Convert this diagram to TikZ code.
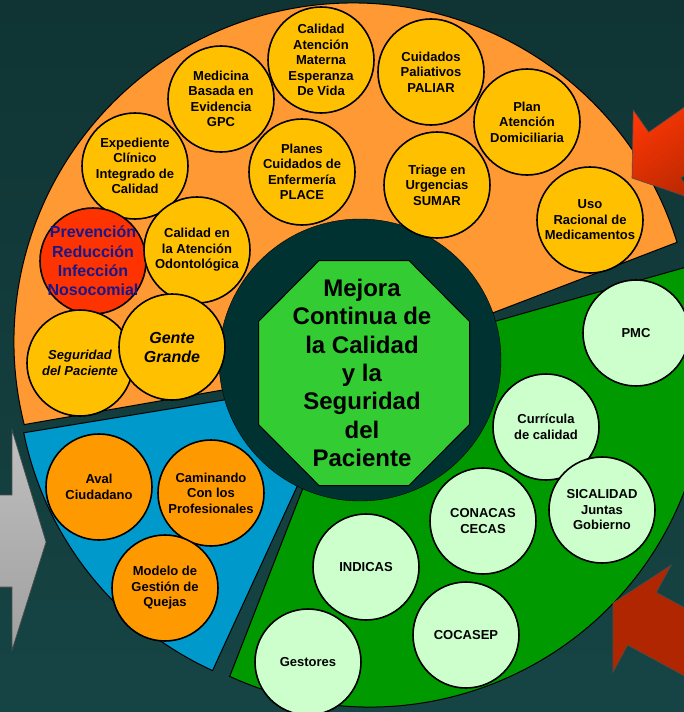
\documentclass[tikz,border=0pt]{standalone}
\usepackage{fontspec}
\setmainfont{Liberation Sans}
\definecolor{bgtop}{RGB}{16,52,52}
\definecolor{bgbot}{RGB}{22,68,68}
\definecolor{hubC}{RGB}{0,50,50}
\definecolor{orangeS}{RGB}{255,153,51}
\definecolor{blueS}{RGB}{0,153,204}
\definecolor{greenS}{RGB}{0,153,0}
\definecolor{octC}{RGB}{51,204,51}
\definecolor{yelF}{RGB}{255,192,0}
\definecolor{oraF}{RGB}{255,153,0}
\definecolor{mintF}{RGB}{204,255,204}
\definecolor{redF}{RGB}{255,51,0}
\definecolor{navyT}{RGB}{24,24,140}
\definecolor{arrLight}{RGB}{255,55,5}
\definecolor{arrDark}{RGB}{130,28,0}
\definecolor{arrMid}{RGB}{175,38,0}
\tikzset{
    sector/.style={draw=black, line width=1pt},
    bub/.style={circle, draw=black, line width=1.6pt, minimum size=106, inner sep=-6pt,
        align=center, font=\fontsize{13}{15.5}\selectfont\bfseries},
    bubY/.style={bub, fill=yelF},
    bubI/.style={bub, fill=yelF, font=\fontsize{13}{15.5}\selectfont\bfseries\itshape},
    bubR/.style={bub, fill=redF, text=navyT, font=\fontsize{16}{19.2}\selectfont\bfseries},
    bubO/.style={bub, fill=oraF},
    bubG/.style={bub, fill=mintF},
    redarr/.style={draw=black!70, line width=0.6pt}
}
\begin{document}
\begin{tikzpicture}[x=1pt, y=-1pt]
    \clip (0,0) rectangle (684,712);
    \shade[top color=bgtop, bottom color=bgbot] (0,0) rectangle (684,712);
    % the three sectors
    \coordinate (oA) at (349,368);
    \coordinate (bA) at (346,380);
    \coordinate (gA) at (352,362);
    \draw[sector, fill=orangeS] (oA) -- ([shift={(353,342)}]165.9:339)
        arc[start angle=165.9, end angle=342.9, radius=339] -- cycle;
    \draw[sector, fill=blueS] (bA) -- ([shift={(352,366)}]114.6:335)
        arc[start angle=114.6, end angle=168.5, radius=335] -- cycle;
    \draw[sector, fill=greenS] (gA) -- ([shift={(370,370)}]114.6:337)
        arc[start angle=114.6, end angle=-18, radius=337] -- cycle;
    % hub
    \node[circle, draw=black, fill=hubC, minimum size=282, inner sep=0pt] (hub) at (360,360) {};
    \begin{scope}[shift={(364,373)}]
    \draw[fill=octC, line width=1pt] (-45,-112.5) -- (45,-112.5) -- (105.5,-51.5) -- (105.5,51.5)
        -- (45,112.5) -- (-45,112.5) -- (-105.5,51.5) -- (-105.5,-51.5) -- cycle;
    \end{scope}
    \node[font=\fontsize{24}{28.3}\selectfont\bfseries, align=center] (core) at (362,373)
        {Mejora\\Continua de\\la Calidad\\y la\\Seguridad\\del\\Paciente};
    % orange sector
    \node[bubY] (mat) at (321,60) {Calidad\\Atención\\Materna\\Esperanza\\De Vida};
    \node[bubY] (gpc) at (221,99) {Medicina\\Basada en\\Evidencia\\GPC};
    \node[bubY] (pal) at (431,72) {Cuidados\\Paliativos\\PALIAR};
    \node[bubY] (dom) at (527,122) {Plan\\Atención\\Domiciliaria};
    \node[bubY] (exp) at (135,166) {Expediente\\Clínico\\Integrado de\\Calidad};
    \node[bubY] (plc) at (302,172) {Planes\\Cuidados de\\Enfermería\\PLACE};
    \node[bubY] (tri) at (437,185) {Triage en\\Urgencias\\SUMAR};
    \node[bubY] (uso) at (590,220) {Uso\\Racional de\\Medicamentos};
    \node[bubR] (noso) at (93,261) {Prevención\\Reducción\\Infección\\Nosocomial};
    \node[bubY] (odo) at (197,250) {Calidad en\\la Atención\\Odontológica};
    \node[bubI] (seg) at (80,363) {Seguridad\\del Paciente};
    \node[bubI, font=\fontsize{16}{19}\selectfont\bfseries\itshape] (gen) at (172,347) {Gente\\Grande};
    % blue sector
    \node[bubO] (aval) at (99,487) {Aval\\Ciudadano};
    \node[bubO] (cam) at (211,493) {Caminando\\Con los\\Profesionales};
    \node[bubO] (que) at (165,588) {Modelo de\\Gestión de\\Quejas};
    % green sector
    \node[bubG] (pmc) at (636,333) {PMC};
    \node[bubG] (cur) at (546,427) {Currícula\\de calidad};
    \node[bubG] (sic) at (602,510) {SICALIDAD\\Juntas\\Gobierno};
    \node[bubG] (con) at (483,521) {CONACAS\\CECAS};
    \node[bubG] (ind) at (366,567) {INDICAS};
    \node[bubG] (coc) at (466,635) {COCASEP};
    \node[bubG] (ges) at (308,662) {Gestores};
    % arrows
    \draw[draw=black!70, line width=0.6pt, top color=gray!50, middle color=gray!5, bottom color=gray!75]
        (-10,495) -- (12,495) -- (12,430) -- (46,542) -- (12,650) -- (12,587) -- (-10,587) -- cycle;
    \begin{scope}[shift={(632,178)}, rotate=215]
    \draw[redarr, top color=arrLight, middle color=arrDark, bottom color=arrMid, shading angle=35]
        (0,0) -- (-40,55) -- (-40,28) -- (-110,28) -- (-110,-28) -- (-40,-28) -- (-40,-55) -- cycle;
    \end{scope}
    \begin{scope}[shift={(613,603)}, rotate=151.5]
    \draw[redarr, top color=arrMid, middle color=arrLight, bottom color=arrMid, shading angle=-28.5]
        (0,0) -- (-33,61) -- (-33,30) -- (-110,30) -- (-110,-30) -- (-33,-30) -- (-33,-61) -- cycle;
    \end{scope}
\end{tikzpicture}
\end{document}
